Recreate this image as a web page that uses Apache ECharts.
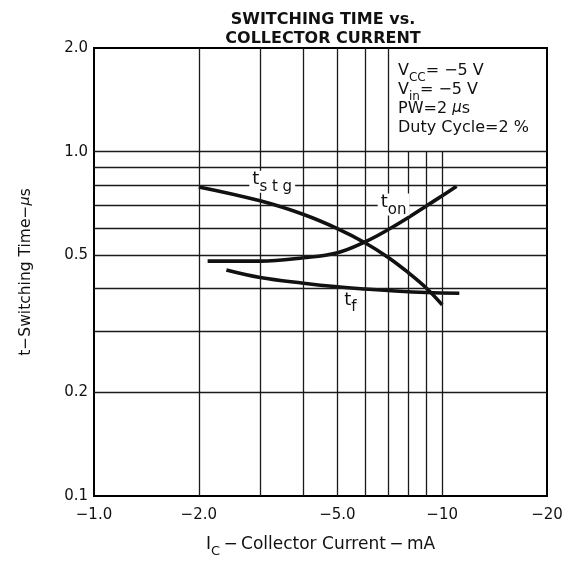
<!DOCTYPE html>
<html><head><meta charset="utf-8">
<script src="https://cdn.jsdelivr.net/npm/echarts@6/dist/echarts.min.js"></script>
<style>html,body{margin:0;padding:0;background:#fff}#c{width:578px;height:561px}</style>
</head><body><div id="c"></div><script>
// Collector current magnitudes (mA); the chart's current axis is negative (−IC)
const xTicks = [1, 2, 5, 10, 20];
const yTicks = [0.1, 0.2, 0.5, 1.0, 2.0];
const gridXFull = [2, 3, 4, 5, 6, 7];
const gridXLower = [8, 9, 10];
const gridY = [0.2, 0.3, 0.4, 0.5, 0.6, 0.7, 0.8, 0.9, 1.0];

const tstgIc = [2, 3, 4, 5, 6, 7, 8, 9, 10];
const tstgT  = [0.79, 0.72, 0.657, 0.598, 0.544, 0.493, 0.445, 0.402, 0.359];
const tonIc  = [2.12, 3, 4, 5, 6, 7, 8, 9, 10, 11.0];
const tonT   = [0.481, 0.481, 0.492, 0.509, 0.547, 0.594, 0.644, 0.695, 0.745, 0.793];
const tfIc   = [2.4, 3, 4, 5, 6, 7, 9, 11.2];
const tfT    = [0.453, 0.431, 0.415, 0.405, 0.399, 0.395, 0.39, 0.388];

const labelText = ['{a|t}{s|s t g}', '{a|t}{s|on}', '{a|t}{s|f}'];
const labelIc = [3.25, 7.25, 5.45];
const labelT  = [0.818, 0.702, 0.366];

const FONT = 'DejaVu Sans';
const INK = '#111';
const rich = (big, small, lh, pad) => ({
  a: {fontFamily: FONT, fontWeight: 'normal', fontSize: big, lineHeight: lh, verticalAlign: 'top', color: INK, textBorderWidth: 0, opacity: 1},
  s: {fontFamily: FONT, fontWeight: 'normal', fontSize: small, lineHeight: lh - pad, padding: [pad, 0, 0, 0], verticalAlign: 'top', color: INK, textBorderWidth: 0, opacity: 1},
  i: {fontFamily: FONT, fontWeight: 'normal', fontSize: big - 1, lineHeight: lh, verticalAlign: 'top', fontStyle: 'italic', color: INK, textBorderWidth: 0, opacity: 1}
});
const richBox = rich(16, 12, 19, 9);
const richX = rich(17, 13, 20, 9);
const richY = rich(15.5, 12, 19, 8);
const richCurve = rich(18, 15, 22, 9);

const zip = (xs, ys) => xs.map((x, i) => [x, ys[i]]);
const gridLineStyle = {type: 'solid', color: '#1a1a1a', width: 1.3};

const chart = echarts.init(document.getElementById('c'), null, {renderer: 'canvas'});
chart.setOption({
  animation: false,
  backgroundColor: '#fff',
  title: [
    {
      text: 'SWITCHING TIME vs.\nCOLLECTOR CURRENT',
      left: 318, top: 5, textAlign: 'center',
      textStyle: {fontFamily: FONT, fontWeight: 'bold', fontSize: 16, lineHeight: 19, color: INK}
    },
    {
      text: '{a|V}{s|CC}{a|= −5 V}\n{a|V}{s|in}{a|= −5 V}\n{a|PW=2 }{i|μ}{a|s}\n{a|Duty Cycle=2 %}',
      left: 393, top: 58,
      textStyle: {fontWeight: 'normal', rich: richBox}
    }
  ],
  grid: {left: 94, right: 31, top: 48, bottom: 65, outerBoundsMode: 'none', containLabel: false,
         show: true, borderColor: '#000', borderWidth: 2, backgroundColor: 'transparent'},
  xAxis: {
    type: 'log', logBase: 10, min: 1, max: 20,
    name: '{a|I}{s|C}{a|\u2009−\u2009Collector Current\u2009−\u2009mA}',
    nameLocation: 'middle', nameGap: 40,
    nameTextStyle: {rich: richX},
    axisLine: {show: true, lineStyle: {color: '#000', width: 2}},
    axisTick: {show: false},
    splitLine: {show: false},
    minorSplitLine: {show: false},
    axisLabel: {
      customValues: xTicks, margin: 12,
      fontFamily: FONT, fontSize: 15, color: INK,
      formatter: v => { const n = Math.round(v * 10) / 10; return '−' + (n < 10 ? n.toFixed(1) : n.toFixed(0)); }
    }
  },
  yAxis: {
    type: 'log', logBase: 10, min: 0.1, max: 2,
    name: '{a|t−Switching Time−}{i|μ}{a|s}',
    nameLocation: 'middle', nameGap: 57, nameRotate: 90,
    nameTextStyle: {rich: richY},
    axisLine: {show: true, lineStyle: {color: '#000', width: 2}},
    axisTick: {show: false},
    splitLine: {show: false},
    minorSplitLine: {show: false},
    axisLabel: {
      customValues: yTicks, margin: 6,
      fontFamily: FONT, fontSize: 15, color: INK,
      formatter: v => (Math.round(v * 10) / 10).toFixed(1)
    }
  },
  series: [
    {
      type: 'line', data: [], z: 1, silent: true,
      markLine: {
        silent: true, symbol: ['none', 'none'], label: {show: false}, animation: false,
        lineStyle: gridLineStyle,
        data: [
          ...gridXFull.map(v => ({xAxis: v})),
          ...gridY.map(v => ({yAxis: v})),
          ...gridXLower.map(v => [{coord: [v, 0.1]}, {coord: [v, 1.0]}])
        ]
      }
    },
    {type: 'line', name: 'tstg', data: zip(tstgIc, tstgT), smooth: 0.4, symbol: 'none', z: 3, lineStyle: {color: INK, width: 3.6}},
    {type: 'line', name: 'ton', data: zip(tonIc, tonT), smooth: 0.4, symbol: 'none', z: 3, lineStyle: {color: INK, width: 3.6}},
    {type: 'line', name: 'tf', data: zip(tfIc, tfT), smooth: 0.4, symbol: 'none', z: 3, lineStyle: {color: INK, width: 3.6}},
    {
      type: 'scatter', z: 5, symbolSize: 1, itemStyle: {color: '#fff', opacity: 0}, silent: true,
      data: labelIc.map((x, i) => ({value: [x, labelT[i]], label: {formatter: labelText[i]}})),
      label: {show: true, position: 'inside', color: INK, opacity: 1, textBorderWidth: 0, fontSize: 18, fontFamily: FONT,
              backgroundColor: '#fff', padding: [0, 3, 0, 3], rich: richCurve}
    }
  ]
});
</script></body></html>
